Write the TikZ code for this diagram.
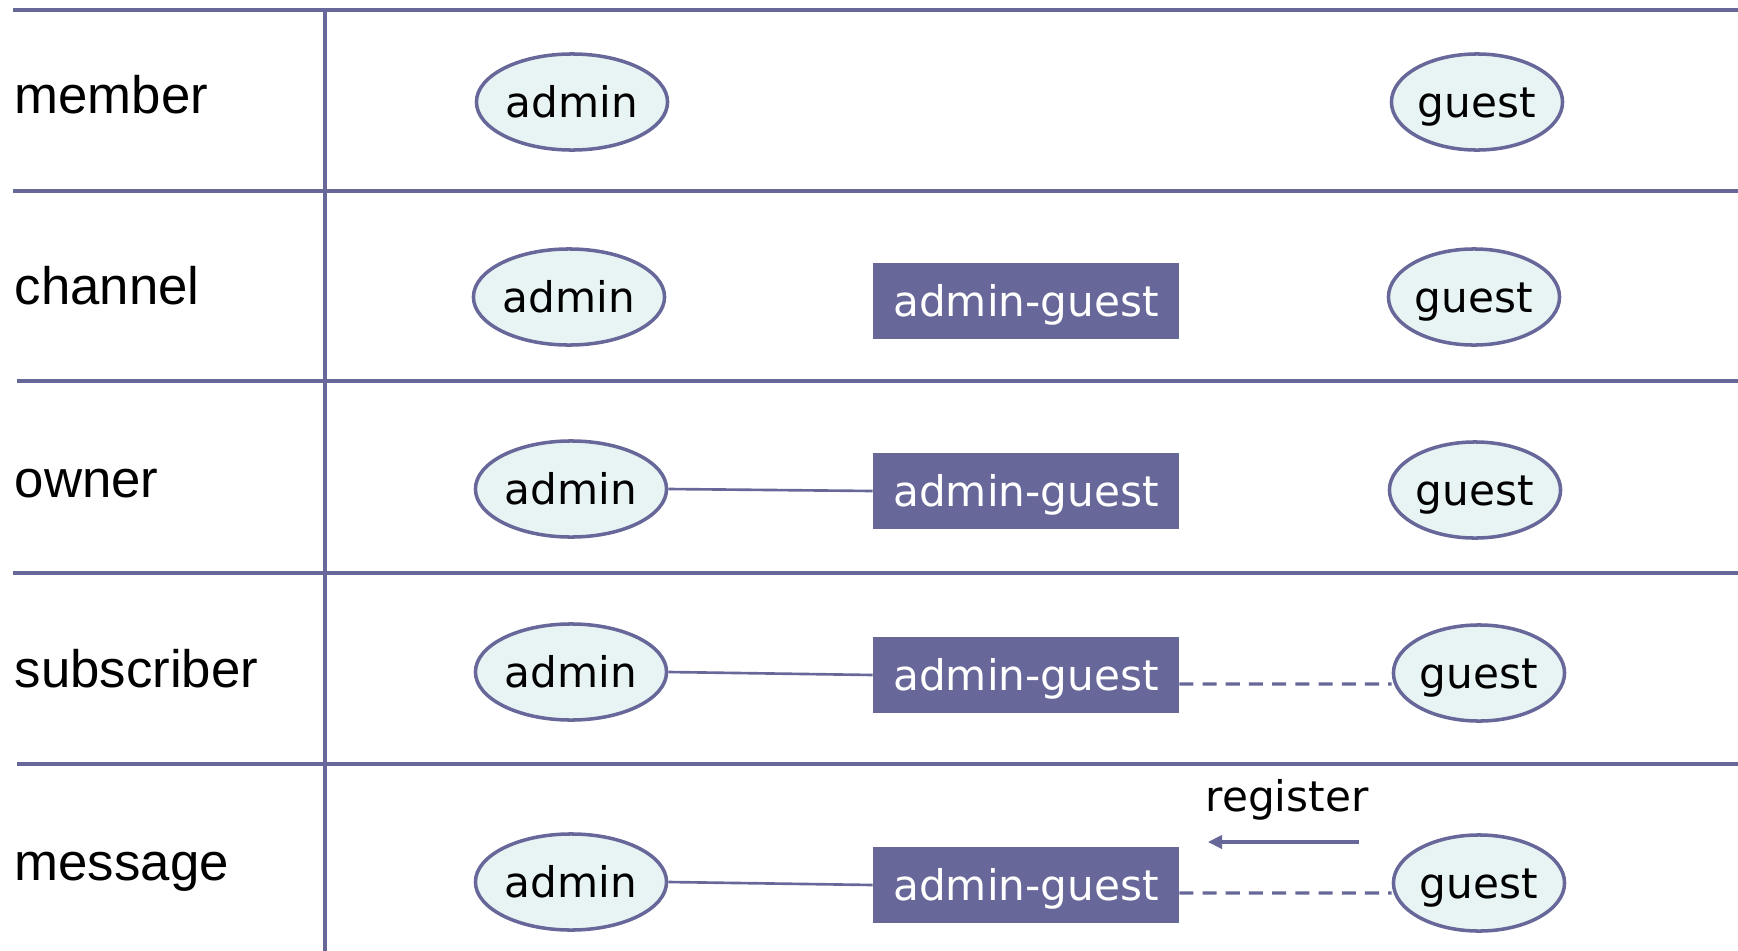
\documentclass[tikz,border=0pt]{standalone}
\usepackage{fontspec}
\setmainfont{Liberation Sans}
\newfontfamily\rolefont{DejaVu Sans}
\usetikzlibrary{positioning,arrows.meta,shapes.geometric}
\definecolor{gridblue}{RGB}{103,103,153}
\definecolor{rolefill}{RGB}{232,244,244}
\tikzset{
  gridline/.style={draw=gridblue, line width=1pt},
  rolenode/.style={ellipse, draw=gridblue, line width=1pt, fill=rolefill, minimum width=1.91cm, minimum height=0.96cm, inner sep=0pt, text height=0.32cm, text depth=0.02cm, font=\rolefont\fontsize{12}{14}\selectfont},
  guestnode/.style={rolenode, minimum width=1.71cm},
  pairbox/.style={rectangle, fill=gridblue, text=white, minimum width=3.05cm, minimum height=0.76cm, inner sep=0pt, text height=0.32cm, text depth=0.02cm, font=\rolefont\fontsize{12}{14}\selectfont},
  rowlabel/.style={anchor=base west, inner sep=0pt, font=\fontsize{15}{18}\selectfont},
  linkline/.style={draw=gridblue, line width=0.75pt},
  optline/.style={draw=gridblue, line width=0.9pt, dash pattern=on 4pt off 2.6pt},
  regarrow/.style={draw=gridblue, line width=0.9pt, -{Triangle[length=4pt, width=3.8pt]}}
}
\begin{document}
\begin{tikzpicture}[x=0.01cm, y=-0.01cm]
  \useasboundingbox (0,0) rectangle (1738,951);
  % grid
  \draw[gridline] (13,10) -- (1738,10);
  \draw[gridline] (13,191) -- (1738,191);
  \draw[gridline] (17,381) -- (1738,381);
  \draw[gridline] (13,573) -- (1738,573);
  \draw[gridline] (17,764) -- (1738,764);
  \draw[gridline] (325,10) -- (325,951);

  % row labels
  \node[rowlabel] (lblmember) at (14,113) {member};
  \node[rowlabel] (lblchannel) at (14,304) {channel};
  \node[rowlabel] (lblowner) at (14,497) {owner};
  \node[rowlabel] (lblsub) at (14,687) {subscriber};
  \node[rowlabel] (lblmsg) at (14,880) {message};

  % member
  \node[rolenode] (ad1) at (572,102) {admin};
  \node[guestnode] (gu1) at (1477,102) {guest};

  % channel
  \node[rolenode] (ad2) at (569,297) {admin};
  \node[pairbox] (pair2) at (1026,301) {admin-guest};
  \node[guestnode] (gu2) at (1474,297) {guest};

  % owner
  \node[rolenode] (ad3) at (571,489) {admin};
  \node[pairbox] (pair3) at (1026,491) {admin-guest};
  \node[guestnode] (gu3) at (1475,490) {guest};
  \draw[linkline] (ad3.east) -- (pair3.west);

  % subscriber
  \node[rolenode] (ad4) at (571,672) {admin};
  \node[pairbox] (pair4) at (1026,675) {admin-guest};
  \node[guestnode] (gu4) at (1479,673) {guest};
  \draw[linkline] (ad4.east) -- (pair4.west);
  \draw[optline] ([yshift=-0.09cm]pair4.east) -- ([yshift=-0.11cm]gu4.west);

  % message
  \node[rolenode] (ad5) at (571,882) {admin};
  \node[pairbox] (pair5) at (1026,885) {admin-guest};
  \node[guestnode] (gu5) at (1479,883) {guest};
  \draw[linkline] (ad5.east) -- (pair5.west);
  \draw[optline] ([yshift=-0.08cm]pair5.east) -- ([yshift=-0.1cm]gu5.west);

  \node[font=\rolefont\fontsize{12}{14}\selectfont, inner sep=0pt] (reglabel) at (1287,800) {register};
  \coordinate (regstart) at (1359,842);
  \coordinate (regend) at (1208,842);
  \draw[regarrow] (regstart) -- (regend);
\end{tikzpicture}
\end{document}
